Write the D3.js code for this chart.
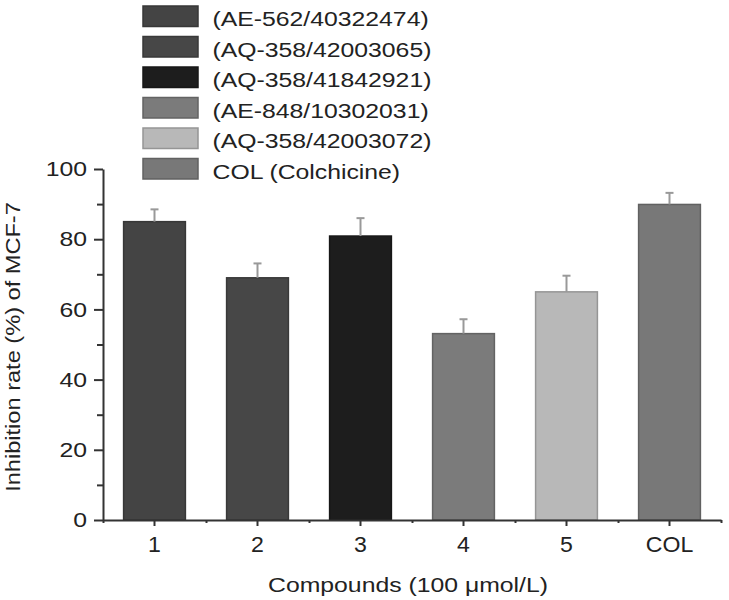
<!DOCTYPE html>
<html>
<head>
<meta charset="utf-8">
<script src="https://cdnjs.cloudflare.com/ajax/libs/d3/7.8.5/d3.min.js"></script>
<style>
  body { margin: 0; background: #fff; }
  text { font-family: "Liberation Sans", Arial, sans-serif; fill: #222; }
</style>
</head>
<body>
<div id="chart"></div>
<script>
// values
var categories = ["1", "2", "3", "4", "5", "COL"];
var compounds = ["(AE-562/40322474)", "(AQ-358/42003065)", "(AQ-358/41842921)",
                 "(AE-848/10302031)", "(AQ-358/42003072)", "COL (Colchicine)"];
var inhibition = [85.0, 69.0, 80.9, 53.1, 65.0, 89.9];
var errors = [3.5, 4.1, 5.1, 4.1, 4.6, 3.3];
var y_ticks = [0, 20, 40, 60, 80, 100];
var y_minor_ticks = [10, 30, 50, 70, 90];
var bar_colors = ["#444444", "#474747", "#1d1d1d", "#7b7b7b", "#b8b8b8", "#787878"];

var width = 729, height = 600,
    margins = {top: 169, right: 8, bottom: 80, left: 103},
    text_stretch = 1.18,   // the figure's lettering is wide
    axis_color = "#333";

var svg = d3.select("#chart").append("svg")
    .attr("width", width)
    .attr("height", height);

// scales
var x = d3.scaleBand()
    .domain(categories)
    .range([margins.left, width - margins.right])
    .paddingInner(0.4)
    .paddingOuter(0.2);
var x_edges = d3.scaleLinear()
    .domain([0, categories.length])
    .range([margins.left, width - margins.right]);
var y = d3.scaleLinear()
    .domain([0, 100])
    .range([height - margins.bottom, margins.top]);

var rows = categories.map(function(c, i) {
    return { cat: c, name: compounds[i], value: inhibition[i],
             err: errors[i], color: bar_colors[i] };
});

// bars
svg.append("g").attr("class", "bars")
    .selectAll("rect")
    .data(rows)
    .join("rect")
    .attr("x", function(d) { return x(d.cat); })
    .attr("y", function(d) { return y(d.value); })
    .attr("width", x.bandwidth())
    .attr("height", function(d) { return y(0) - y(d.value); })
    .attr("fill", function(d) { return d.color; })
    .attr("stroke", function(d) { return d3.color(d.color).darker(0.6); })
    .attr("stroke-width", 1.5);

// error bars, upper half only
var err = svg.append("g").attr("class", "errors")
    .attr("stroke", "#999")
    .attr("stroke-width", 2)
    .selectAll("g")
    .data(rows)
    .join("g")
    .attr("transform", function(d) {
        return "translate(" + (x(d.cat) + x.bandwidth() / 2) + ",0)";
    });
err.append("line")
    .attr("y1", function(d) { return y(d.value); })
    .attr("y2", function(d) { return y(d.value + d.err); });
err.append("line")
    .attr("x1", -4).attr("x2", 4)
    .attr("y1", function(d) { return y(d.value + d.err); })
    .attr("y2", function(d) { return y(d.value + d.err); });

// axes
var y_axis = svg.append("g")
    .attr("transform", "translate(" + margins.left + ",0)")
    .call(d3.axisLeft(y).tickValues(y_ticks).tickSize(9).tickSizeOuter(0).tickPadding(4.5));
style_axis(y_axis);
y_axis.selectAll("text")
    .style("font-size", "21px")
    .attr("transform", "scale(" + text_stretch + ",1)");

var y_minor = svg.append("g")
    .attr("transform", "translate(" + margins.left + ",0)")
    .call(d3.axisLeft(y).tickValues(y_minor_ticks).tickSize(6).tickFormat(""));
y_minor.select(".domain").remove();
style_axis(y_minor);

var x_axis = svg.append("g")
    .attr("transform", "translate(0," + y(0) + ")")
    .call(d3.axisBottom(x).tickSize(6).tickSizeOuter(0).tickPadding(10));
style_axis(x_axis);
x_axis.selectAll("text")
    .style("font-size", "22px")
    .attr("transform", "scale(1.05,1)");

var x_minor = svg.append("g")
    .attr("transform", "translate(0," + y(0) + ")")
    .call(d3.axisBottom(x_edges).tickValues(d3.range(categories.length + 1))
          .tickSize(3).tickFormat(""));
x_minor.select(".domain").remove();
style_axis(x_minor);

// axis titles
place_text(svg.append("text"), 408, 592, 0)
    .attr("text-anchor", "middle")
    .style("font-size", "21px")
    .text("Compounds (100 \u03bcmol/L)");
place_text(svg.append("text"), 20, 347, -90)
    .attr("text-anchor", "middle")
    .style("font-size", "20px")
    .text("Inhibition rate (%) of MCF-7");

// legend
var legend = svg.append("g")
    .attr("transform", "translate(143,6)")
    .selectAll("g")
    .data(rows)
    .join("g")
    .attr("transform", function(d, i) { return "translate(0," + (i * 30.5) + ")"; });
legend.append("rect")
    .attr("width", 55)
    .attr("height", 20.5)
    .attr("fill", function(d) { return d.color; })
    .attr("stroke", function(d) { return d3.color(d.color).darker(0.6); })
    .attr("stroke-width", 1.5);
legend.append("text")
    .each(function() { place_text(d3.select(this), 69.5, 20, 0); })
    .style("font-size", "21px")
    .text(function(d) { return d.name; });

// definitions
function style_axis(g) {
    g.selectAll(".domain, .tick line")
        .attr("stroke", axis_color)
        .attr("stroke-width", 2);
    g.selectAll(".tick text")
        .attr("fill", "#222")
        .style("font-family", '"Liberation Sans", Arial, sans-serif');
}
function place_text(sel, tx, ty, angle) {
    return sel.attr("transform", "translate(" + tx + "," + ty + ") rotate(" + angle +
                    ") scale(" + text_stretch + ",1)");
}
</script>
</body>
</html>
